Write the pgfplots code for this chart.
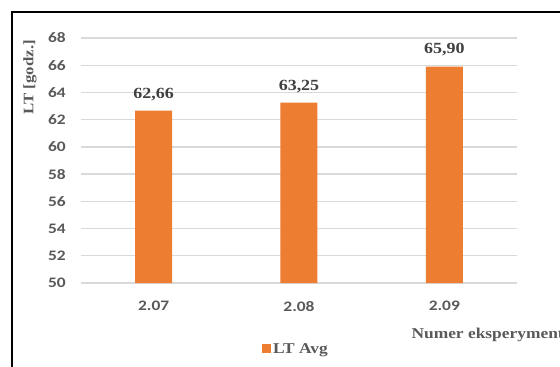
\documentclass[border=0pt]{standalone}
\usepackage{fontspec}
\setmainfont{Liberation Serif}[FakeStretch=1.16]
\newfontfamily\tickfont{Carlito}[FakeStretch=1.2]
\usepackage{pgfplots}
\pgfplotsset{compat=1.18}
\definecolor{barorange}{HTML}{ED7D31}
\definecolor{gridgray}{HTML}{D9D9D9}
\definecolor{txtgray}{HTML}{595959}
\definecolor{lblgray}{HTML}{404040}
\begin{document}
\begin{tikzpicture}
\useasboundingbox (0pt,0pt) rectangle (560pt,367pt);
\begin{scope}
\clip (0pt,0pt) rectangle (560pt,367pt);
\draw[black, line width=2pt] (12pt,-5pt) -- (12pt,355pt) -- (570pt,355pt);
\begin{axis}[
  at={(81pt,84pt)}, anchor=south west,
  scale only axis, width=436pt, height=245pt,
  /pgf/number format/assume math mode=true,
  ybar, bar width=37pt,
  xmin=-0.5, xmax=2.5, ymin=50, ymax=68,
  xtick={0,1,2}, xticklabels={2.07,2.08,2.09},
  ytick={50,52,...,68},
  major tick length=0pt,
  axis line style={draw=none},
  ymajorgrids, grid style={gridgray, line width=1.3pt},
  tick label style={font=\tickfont\bfseries\fontsize{14.5}{16}\selectfont, text=txtgray},
  xticklabel style={inner sep=0pt, yshift=-18pt},
  yticklabel style={inner sep=0pt, xshift=-15pt},
  ylabel={LT [godz.]},
  ylabel style={at={(axis description cs:-0.117,0.84)}, anchor=center, rotate=0,
    font=\bfseries\fontsize{14.5}{16}\selectfont, text=txtgray},
  xlabel={Numer eksperymentu},
  xlabel style={at={(axis description cs:0.75,-0.212)}, anchor=west,
    font=\bfseries\fontsize{15}{17}\selectfont, text=txtgray},
  nodes near coords,
  nodes near coords style={anchor=south, inner sep=0pt, yshift=10pt,
    font=\bfseries\fontsize{15.5}{17}\selectfont, text=lblgray,
    /pgf/number format/.cd, use comma, fixed, fixed zerofill, precision=2, assume math mode=true},
  legend style={at={(axis description cs:0.493,-0.269)}, anchor=center, draw=none,
    fill=none, font=\bfseries\fontsize{15}{17}\selectfont, text=txtgray,
    inner sep=0pt},
  legend image code/.code={\fill[barorange] (-2pt,-4.5pt) rectangle (7pt,4.5pt);},
]
\addplot[fill=barorange, draw=none] coordinates {(0,62.66) (1,63.25) (2,65.90)};
\addlegendentry{LT Avg}
\end{axis}
\end{scope}
\end{tikzpicture}
\end{document}
